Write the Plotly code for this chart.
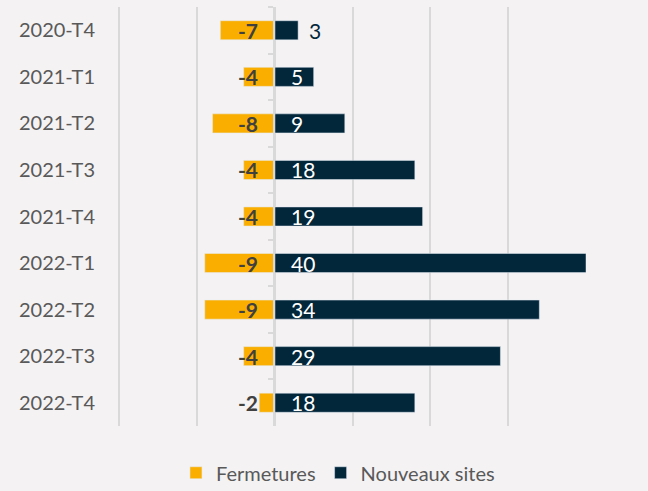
"""Fermetures vs nouveaux sites par trimestre (barres horizontales divergentes)."""
import plotly.graph_objects as go

trimestres = ["2020-T4", "2021-T1", "2021-T2", "2021-T3", "2021-T4",
              "2022-T1", "2022-T2", "2022-T3", "2022-T4"]
fermetures = [-7, -4, -8, -4, -4, -9, -9, -4, -2]
nouveaux = [3, 5, 9, 18, 19, 40, 34, 29, 18]

ORANGE = "#FAAF00"
NAVY = "#02263A"
BG = "#F4F2F3"
GRID = "#D9D9D9"
FONT = "Lato, 'Open Sans', sans-serif"

fig = go.Figure()
fig.add_trace(go.Bar(
    y=trimestres, x=fermetures, orientation="h", name="Fermetures",
    marker=dict(color=ORANGE), width=0.41, yaxis="y2"))
fig.add_trace(go.Bar(
    y=trimestres, x=nouveaux, orientation="h", name="Nouveaux sites",
    marker=dict(color=NAVY), width=0.41))

# étiquettes : fermetures à gauche du zéro, nouveaux sites à droite
for cat, f, n in zip(trimestres, fermetures, nouveaux):
    fig.add_annotation(x=0, y=cat, text=f"<b>{f}</b>", showarrow=False,
                       xanchor="right", xshift=-15,
                       font=dict(size=21, color="#404040", family=FONT))
    if n < 4:
        fig.add_annotation(x=n, y=cat, text=str(n), showarrow=False,
                           xanchor="left", xshift=9,
                           font=dict(size=21, color=NAVY, family=FONT))
    else:
        fig.add_annotation(x=0, y=cat, text=str(n), showarrow=False,
                           xanchor="left", xshift=14,
                           font=dict(size=21, color="white", family=FONT))

fig.update_layout(
    width=648, height=491,
    paper_bgcolor=BG, plot_bgcolor=BG,
    margin=dict(l=118, r=62, t=7, b=65, autoexpand=False),
    barmode="overlay",
    font=dict(family=FONT, size=20, color="#595959"),
    xaxis=dict(range=[-20.15, 40], dtick=10, tick0=0, showticklabels=False,
               showgrid=True, gridcolor=GRID, gridwidth=1.5,
               zeroline=False, fixedrange=True),
    yaxis=dict(autorange="reversed", showgrid=False, ticks="",
               automargin=False, ticklabelstandoff=22,
               tickfont=dict(size=20, color="#595959")),
    yaxis2=dict(matches="y", overlaying="y", anchor="free", position=1 / 3,
                showticklabels=False, ticks="outside", tickson="boundaries",
                ticklen=5, tickcolor=GRID, tickwidth=1.5, automargin=False,
                showline=True, linecolor=GRID, linewidth=1.5, showgrid=False),
    legend=dict(orientation="h", x=0.47, xanchor="center", y=-0.065,
                yanchor="top", font=dict(size=20, color="#595959"),
                itemwidth=30),
    showlegend=True,
)

fig.write_html("out.html", config={"displayModeBar": False},
               post_script="document.body.style.margin='0';"
                           "document.body.style.background='#F4F2F3';")
